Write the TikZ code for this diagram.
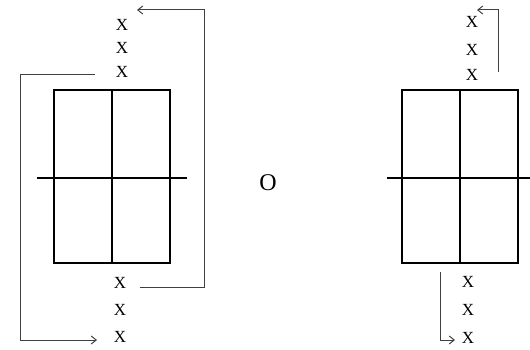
\documentclass[tikz,border=0pt]{standalone}
\usepackage{fontspec}
\setmainfont{Liberation Serif}
\usetikzlibrary{arrows.meta, positioning}

\begin{document}
\begin{tikzpicture}[
    x=1pt, y=-1pt,
    every node/.style={font=\fontsize{17}{17}\selectfont},
    grid/.style={rectangle, draw=black, line width=1.6pt, minimum width=116pt,
                 minimum height=173pt, inner sep=0pt},
    axis/.style={draw=black, line width=1.4pt},
    mark_x/.style={inner sep=0pt},
    arrow/.style={-{Straight Barb[length=5pt, width=8pt]}, draw=black!75, line width=1pt},
]
\useasboundingbox (0,0) rectangle (530,350);

% Left figure
\node[grid] (lbox) at (112,176.5) {};
\draw[axis] (lbox.north) -- (lbox.south);
\draw[axis] (37,178) -- (187,178);

\node[mark_x] (lt1) at (122,25) {X};
\node[mark_x] (lt2) at (122,48) {X};
\node[mark_x] (lt3) at (122,72) {X};
\node[mark_x] (lb1) at (120,283) {X};
\node[mark_x] (lb2) at (120,310) {X};
\node[mark_x] (lb3) at (120,337) {X};

% Middle
\node[font=\fontsize{24}{24}\selectfont] (or) at (268,183) {O};

% Right figure
\node[grid] (rbox) at (460,176.5) {};
\draw[axis] (rbox.north) -- (rbox.south);
\draw[axis] (387,178) -- (530,178);

\node[mark_x] (rt1) at (472,22) {X};
\node[mark_x] (rt2) at (472,50) {X};
\node[mark_x] (rt3) at (472,75) {X};
\node[mark_x] (rb1) at (468,282) {X};
\node[mark_x] (rb2) at (468,310) {X};
\node[mark_x] (rb3) at (468,338) {X};

% Arrows
\coordinate (lt1tip) at (137,10);
\coordinate (lb1start) at (140,287);
\coordinate (lt3start) at (95,75);
\coordinate (lb3tip) at (97,340);
\coordinate (rt3start) at (498,72);
\coordinate (rt1tip) at (477,10);
\coordinate (rb1start) at (440,272);
\coordinate (rb3tip) at (455,340);

\draw[arrow] (lb1start) -| (204,10) -- (lt1tip);
\draw[arrow] (lt3start) -| (20,340) -- (lb3tip);
\draw[arrow] (rt3start) |- (rt1tip);
\draw[arrow] (rb1start) |- (rb3tip);

\end{tikzpicture}
\end{document}
